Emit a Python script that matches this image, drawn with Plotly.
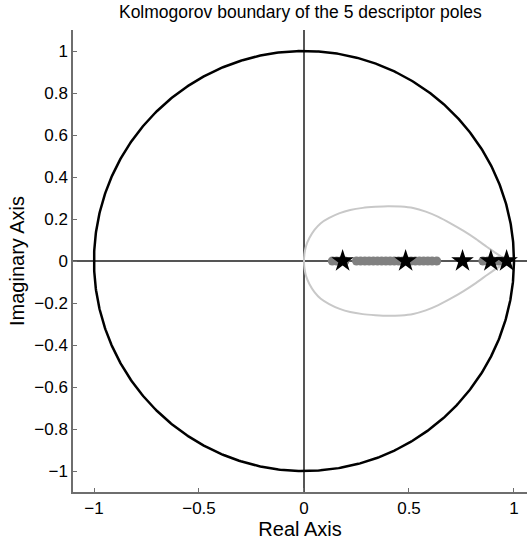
import numpy as np
import plotly.graph_objects as go

# Upper half of the Kolmogorov boundary (real, imaginary); the lower half is its mirror image
boundary_re = [0.0, 0.0025, 0.010, 0.025, 0.050, 0.080, 0.120, 0.170, 0.220, 0.280, 0.340,
               0.400, 0.460, 0.520, 0.580, 0.640, 0.700, 0.760, 0.820, 0.870, 0.910, 0.940, 0.970]
boundary_im = [0.0, 0.035, 0.072, 0.108, 0.148, 0.180, 0.205, 0.228, 0.243, 0.253, 0.258,
               0.261, 0.259, 0.252, 0.235, 0.210, 0.178, 0.143, 0.104, 0.068, 0.040, 0.020, 0.0]

# Real poles traced along the positive real axis
trace_poles = [0.135, 0.155, 0.175, 0.195,
               0.250, 0.270, 0.290, 0.310, 0.330, 0.350, 0.370, 0.390, 0.410, 0.430,
               0.450, 0.470, 0.490, 0.510, 0.530, 0.550, 0.570, 0.590, 0.610, 0.632,
               0.852, 0.875, 0.900, 0.925, 0.945, 0.962]

# The 5 descriptor poles
descriptor_poles = [0.184, 0.484, 0.755, 0.890, 0.965]

x_ticks = [-1, -0.5, 0, 0.5, 1]
x_tick_text = ["\u22121", "\u22120.5", "0", "0.5", "1"]
y_ticks = [-1, -0.8, -0.6, -0.4, -0.2, 0, 0.2, 0.4, 0.6, 0.8, 1]
y_tick_text = ["\u22121", "\u22120.8", "\u22120.6", "\u22120.4", "\u22120.2", "0",
               "0.2", "0.4", "0.6", "0.8", "1"]

unit_radius = 1.0
theta = np.linspace(0, 2 * np.pi, 721)

fig = go.Figure()

# Unit circle
fig.add_trace(go.Scatter(
    x=unit_radius * np.cos(theta), y=unit_radius * np.sin(theta),
    mode="lines", line=dict(color="black", width=2.5),
    hoverinfo="skip", showlegend=False))

# Kolmogorov boundary, closed through the lower half
b_re = boundary_re + boundary_re[-2::-1]
b_im = boundary_im + [-v for v in boundary_im[-2::-1]]
fig.add_trace(go.Scatter(
    x=b_re, y=b_im, mode="lines",
    line=dict(color="#c8c8c8", width=2, shape="spline", smoothing=0.5),
    hoverinfo="skip", showlegend=False))

fig.add_trace(go.Scatter(
    x=trace_poles, y=[0] * len(trace_poles), mode="markers",
    marker=dict(symbol="circle", size=9, color="#808080"),
    showlegend=False))

fig.add_trace(go.Scatter(
    x=descriptor_poles, y=[0] * len(descriptor_poles), mode="markers",
    marker=dict(symbol="star", size=17, color="black"),
    showlegend=False))

font_family = "Liberation Sans, Arial, sans-serif"

axis_common = dict(
    showgrid=False, zeroline=True, zerolinecolor="#555555", zerolinewidth=1.5,
    showline=True, linecolor="#6e6e6e", linewidth=1.5,
    ticks="inside", ticklen=4, tickcolor="#6e6e6e", tickwidth=1,
    tickfont=dict(family=font_family, size=17, color="black"),
    mirror=False,
)

fig.update_layout(
    width=527, height=541,
    margin=dict(l=73, r=0, t=30, b=49),
    paper_bgcolor="white", plot_bgcolor="white",
    font=dict(family=font_family, color="black"),
    title=dict(text="Kolmogorov boundary of the 5 descriptor poles",
               x=0.570, xanchor="center", y=0.978, yanchor="middle",
               font=dict(size=17.5, color="black")),
    xaxis=dict(range=[-1.1, 1.062], tickvals=x_ticks, ticktext=x_tick_text,
               title=dict(text="Real Axis", font=dict(size=20), standoff=0),
               **axis_common),
    yaxis=dict(range=[-1.1, 1.1], tickvals=y_ticks, ticktext=y_tick_text,
               title=dict(text="Imaginary Axis", font=dict(size=20), standoff=4),
               **axis_common),
)

fig.write_html("out.html")
